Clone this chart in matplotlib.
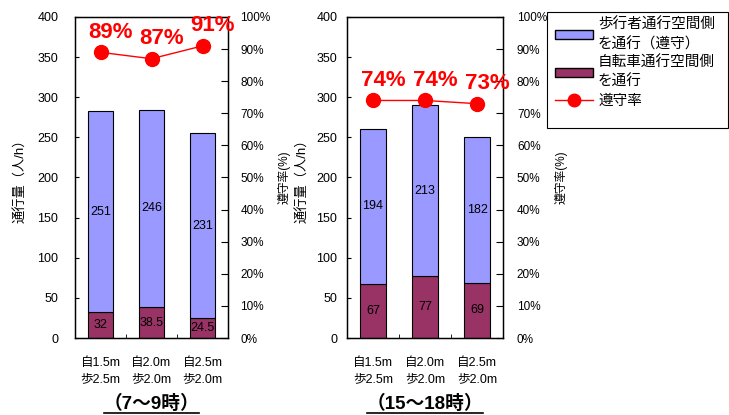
import matplotlib
matplotlib.use("Agg")
import matplotlib.pyplot as plt
from matplotlib.patches import Patch, Rectangle
from matplotlib.lines import Line2D
import numpy as np

plt.rcParams['font.family'] = ['Liberation Sans', 'Noto Sans CJK JP', 'DejaVu Sans']

categories = ["自1.5m\n歩2.5m", "自2.0m\n歩2.0m", "自2.5m\n歩2.0m"]
titles = ["（7～9時）", "（15～18時）"]
bike_side = [[32, 38.5, 24.5], [67, 77, 69]]
ped_side = [[251, 246, 231], [194, 213, 182]]
compliance = [[89, 87, 91], [74, 74, 73]]
bike_labels = [["32", "38.5", "24.5"], ["67", "77", "69"]]
ped_labels = [["251", "246", "231"], ["194", "213", "182"]]

W, H = 729, 415
fig = plt.figure(figsize=(W / 100, H / 100), dpi=100)

blue = "#9999FF"
maroon = "#993366"
red = "#FF0000"

axes_px = [(75, 153), (347, 156)]
left_pad = [12, 7]
left_labelpad = [7, 5]
right_pad = [9, 10]
right_labelpad = [5, 5]
top_px, bot_px = 17, 338

for i in range(2):
    lx, wx = axes_px[i]
    ax = fig.add_axes([lx / W, (H - bot_px) / H, wx / W, (bot_px - top_px) / H])
    x = np.arange(len(categories))
    ax.bar(x, bike_side[i], width=0.49, color=maroon, edgecolor="black", linewidth=0.8)
    ax.bar(x, ped_side[i], bottom=bike_side[i], width=0.49, color=blue, edgecolor="black", linewidth=0.8)
    for j in range(len(categories)):
        ax.text(x[j], bike_side[i][j] / 2, bike_labels[i][j], ha="center", va="center", fontsize=9)
        ax.text(x[j], bike_side[i][j] + ped_side[i][j] / 2, ped_labels[i][j], ha="center", va="center", fontsize=9)
    ax.set_xlim(-0.5, 2.5)
    ax.set_ylim(0, 400)
    ax.set_yticks(range(0, 401, 50))
    ax.tick_params(axis="y", direction="in", labelsize=9, length=3, pad=left_pad[i])
    ax.set_xticks(x)
    ax.set_xticklabels(categories, fontsize=9, linespacing=1.45)
    ax.tick_params(axis="x", length=0, pad=14)
    ax.set_xticks([0.5, 1.5], minor=True)
    ax.tick_params(axis="x", which="minor", direction="in", length=3)
    ax.set_ylabel("通行量（人/h）", fontsize=9.5, labelpad=left_labelpad[i])
    for s in ax.spines.values():
        s.set_color("black")
        s.set_linewidth(1.0)

    ax2 = ax.twinx()
    ax2.set_ylim(0, 100)
    ax2.set_yticks(range(0, 101, 10))
    ax2.set_yticklabels([f"{v}%" for v in range(0, 101, 10)])
    ax2.tick_params(axis="y", direction="in", labelsize=8.5, length=5, pad=right_pad[i])
    ax2.plot(x, compliance[i], color=red, linewidth=1, marker="o", markersize=10)
    for j in range(len(categories)):
        ax2.annotate(f"{compliance[i][j]}%", (x[j], compliance[i][j]), xytext=(10, 20),
                     textcoords="offset pixels", ha="center", va="center",
                     color=red, fontsize=16, fontweight="bold", annotation_clip=False)
    ax2.set_ylabel("遵守率(%)", fontsize=8.5, rotation=90, labelpad=right_labelpad[i])

    cx = (lx + wx / 2) / W
    t = fig.text(cx, 1 - 404 / H, titles[i], ha="center", va="center", fontsize=13.5, fontweight="bold")
    fig.canvas.draw()
    bb = t.get_window_extent()
    yline = H - 413
    fig.add_artist(Line2D([bb.x0 / W, bb.x1 / W], [yline / H, yline / H], color="black", linewidth=1.2))

handles = [Patch(facecolor=blue, edgecolor="black"),
           Patch(facecolor=maroon, edgecolor="black"),
           Line2D([0], [0], color=red, marker="o", markersize=9, linewidth=1)]
labels = ["歩行者通行空間側\nを通行（遵守）", "自転車通行空間側\nを通行", "遵守率"]
leg = fig.legend(handles, labels, loc="upper left", bbox_to_anchor=(555 / W, 1 - 17 / H),
                 fontsize=10.5, frameon=False,
                 handlelength=2.6, handleheight=0.55, borderpad=0.0, labelspacing=0.3,
                 handletextpad=0.35, borderaxespad=0,
                 prop={'size': 10.5})
for tx in leg.get_texts():
    tx.set_linespacing(1.5)
fig.add_artist(Rectangle((547 / W, 1 - 128 / H), 181 / W, 116 / H, transform=fig.transFigure,
                         fill=False, edgecolor="black", linewidth=0.8))

fig.savefig("out.png", dpi=100)
